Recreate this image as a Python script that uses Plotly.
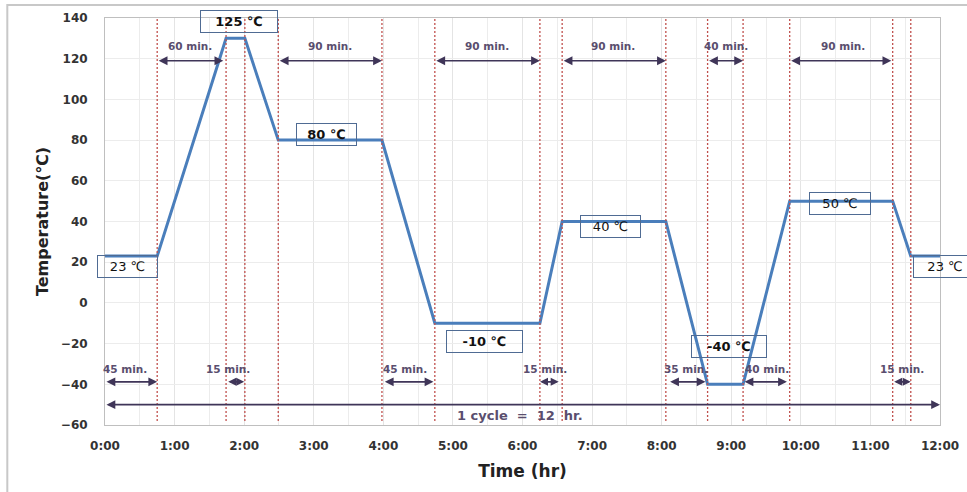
import plotly.graph_objects as go

# ---- data ----
time_hr = [0, 0.75, 1.74, 2.01, 2.49, 3.98, 4.74, 6.25, 6.57, 8.06, 8.66, 9.17, 9.84, 11.32, 11.58, 12]
temp_c = [23, 23, 130, 130, 80, 80, -10, -10, 40, 40, -40, -40, 50, 50, 23, 23]

phase_boundaries = [0.75, 1.74, 2.01, 2.49, 3.98, 4.74, 6.25, 6.57, 8.06, 8.66, 9.17, 9.84, 11.32, 11.58]

x_tick_vals = list(range(0, 13))
x_tick_text = ["0:00", "1:00", "2:00", "3:00", "4:00", "5:00", "6:00", "7:00", "8:00", "9:00", "10:00", "11:00", "12:00"]

# top duration arrows
top_arrow_start = [0.75, 2.49, 4.74, 6.57, 8.66, 9.84]
top_arrow_end = [1.70, 3.98, 6.25, 8.06, 9.17, 11.30]
top_arrow_text = ["60 min.", "90 min.", "90 min.", "90 min.", "40 min.", "90 min."]
top_label_x = [1.22, 3.23, 5.49, 7.3, 8.93, 10.6]

# bottom duration arrows
bot_arrow_start = [0.0, 1.75, 4.0, 6.23, 8.1, 9.17, 11.32]
bot_arrow_end = [0.75, 2.0, 4.72, 6.52, 8.63, 9.8, 11.58]
bot_arrow_text = ["45 min.", "15 min.", "45 min.", "15 min.", "35 min.", "40 min.", "15 min."]
bot_label_x = [0.29, 1.77, 4.31, 6.33, 8.35, 9.51, 11.45]

# temperature boxes
box_text = ["125 ℃", "80 ℃", "23 ℃", "-10 ℃", "40 ℃", "-40 ℃", "50 ℃", "23 ℃"]
box_x = [1.93, 3.19, 0.32, 5.45, 7.26, 8.97, 10.56, 12]
box_y = [138.5, 83, 18, -19, 37.5, -21.5, 48.8, 18]
box_w = [74, 57, 57, 73, 57, 72, 58, 60]
box_bold = [True, True, False, True, False, True, False, False]
box_anchor = ["center", "center", "center", "center", "center", "center", "center", "left"]
box_shift = [0, 0, 0, 0, 0, 0, 0, -27]

ARROW = "#3f3558"
LABEL = "#5a4e6e"
FONT = "DejaVu Sans"

fig = go.Figure()
fig.add_trace(go.Scatter(x=time_hr, y=temp_c, mode="lines",
                         line=dict(color="#4a7ebb", width=3), showlegend=False, hoverinfo="skip"))

shapes = []
for xb in phase_boundaries:
    shapes.append(dict(type="line", xref="x", yref="y", x0=xb, x1=xb, y0=-58, y1=140,
                       line=dict(color="#c0504d", width=1.3, dash="2px,2px"), layer="above"))
# outer frame
shapes.append(dict(type="rect", xref="paper", yref="paper", x0=-0.117, x1=1.2, y0=-0.3, y1=1.032,
                   line=dict(color="#c8c8c8", width=2)))

ann = []
def arrow(s, e, y, size):
    return dict(x=e, y=y, ax=s, ay=y, xref="x", yref="y", axref="x", ayref="y",
                text="", showarrow=True, arrowside="end+start", arrowhead=2, arrowsize=size,
                arrowwidth=1.6, arrowcolor=ARROW)

for s, e in zip(top_arrow_start, top_arrow_end):
    ann.append(arrow(s, e, 119, 1.1))
for t, lx in zip(top_arrow_text, top_label_x):
    ann.append(dict(x=lx, y=126, xref="x", yref="y", text=t, showarrow=False,
                    font=dict(family=FONT, size=10.5, color=LABEL, weight="bold")))
for s, e in zip(bot_arrow_start, bot_arrow_end):
    ann.append(arrow(s, e, -38.8, 1.0 if e - s < 0.4 else 1.1))
for t, lx in zip(bot_arrow_text, bot_label_x):
    ann.append(dict(x=lx, y=-32.5, xref="x", yref="y", text=t, showarrow=False,
                    font=dict(family=FONT, size=10.5, color=LABEL, weight="bold")))
ann.append(arrow(0, 12, -50, 1.1))
ann.append(dict(x=5.97, y=-55.5, xref="x", yref="y", text="1 cycle  =  12  hr.", showarrow=False,
                font=dict(family=FONT, size=13, color=LABEL, weight="bold")))

for t, bx, by, bw, bb, anc, sh in zip(box_text, box_x, box_y, box_w, box_bold, box_anchor, box_shift):
    ann.append(dict(x=bx, y=by, xref="x", yref="y", text=t, showarrow=False,
                    xanchor=anc, xshift=sh,
                    width=bw, height=19, bgcolor="rgba(0,0,0,0)", bordercolor="#4f6b93", borderwidth=1,
                    borderpad=1,
                    font=dict(family=FONT, size=13, color="#111111",
                              weight="bold" if bb else "normal")))

fig.update_layout(
    width=967, height=492,
    margin=dict(l=105, r=27, t=18, b=67),
    plot_bgcolor="white", paper_bgcolor="white",
    hovermode=False, dragmode=False,
    shapes=shapes, annotations=ann,
    xaxis=dict(range=[0, 12], tickvals=x_tick_vals, ticktext=x_tick_text, automargin=False,
               showgrid=True, gridcolor="#e4e4e4", gridwidth=1,
               minor=dict(dtick=0.5, tick0=0, showgrid=True, gridcolor="#ececec"),
               showline=True, linecolor="#bfbfbf", mirror=True, zeroline=False,
               ticks="outside", ticklen=10, tickcolor="rgba(0,0,0,0)",
               tickfont=dict(family=FONT, size=12, color="#333333", weight="bold"),
               title=dict(text="Time (hr)", standoff=12,
                          font=dict(family=FONT, size=17, color="#222222", weight="bold"))),
    yaxis=dict(range=[-60, 140], dtick=20, tick0=-60, automargin=False,
               showgrid=True, gridcolor="#ececec", zeroline=False,
               showline=True, linecolor="#bfbfbf", mirror=True,
               ticks="outside", ticklen=14, tickcolor="rgba(0,0,0,0)",
               tickfont=dict(family=FONT, size=12, color="#333333", weight="bold"),
               title=dict(text="Temperature(℃)", standoff=8,
                          font=dict(family=FONT, size=16, color="#222222", weight="bold"))),
)

fig.write_html("out.html", config={"displayModeBar": False, "staticPlot": True},
               post_script="document.body.style.margin='0px';")
